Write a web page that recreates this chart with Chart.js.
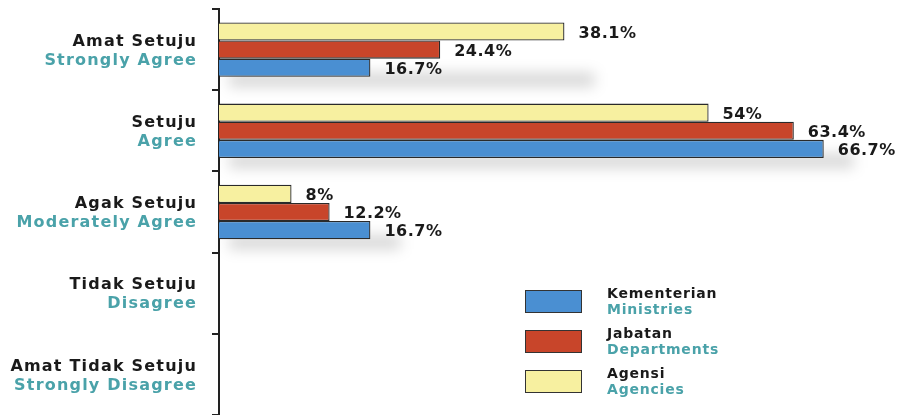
<!DOCTYPE html>
<html>
<head>
<meta charset="utf-8">
<script src="https://cdn.jsdelivr.net/npm/chart.js@4/dist/chart.umd.min.js"></script>
<style>
  html, body { margin: 0; padding: 0; background: #ffffff; overflow: hidden; }
  #wrap { width: 899px; height: 415px; position: relative; }
</style>
</head>
<body>
<div id="wrap"><canvas id="c"></canvas></div>
<script>
// ---- data ----
const categoriesMalay = ['Amat Setuju', 'Setuju', 'Agak Setuju', 'Tidak Setuju', 'Amat Tidak Setuju'];
const categoriesEnglish = ['Strongly Agree', 'Agree', 'Moderately Agree', 'Disagree', 'Strongly Disagree'];

const agencies = [38.1, 54, 8, null, null];       // Agensi / Agencies
const departments = [24.4, 63.4, 12.2, null, null]; // Jabatan / Departments
const ministries = [16.7, 66.7, 16.7, null, null];  // Kementerian / Ministries

const seriesMalay = ['Agensi', 'Jabatan', 'Kementerian'];
const seriesEnglish = ['Agencies', 'Departments', 'Ministries'];
const seriesColors = ['#f7f0a0', '#c8452a', '#4a8fd2'];
const legendOrder = [2, 1, 0];

const FONT = '"DejaVu Sans", sans-serif';
const TEAL = '#4aa2a9';
const DARK = '#1a1a1a';

const labelsPlugin = {
  id: 'customLabels',
  beforeDatasetsDraw(chart) {
    const ctx = chart.ctx;
    // soft shadows under bar groups
    ctx.save();
    ctx.filter = 'blur(7px)';
    ctx.fillStyle = 'rgba(0,0,0,0.16)';
    const metas = chart.data.datasets.map((d, i) => chart.getDatasetMeta(i));
    categoriesMalay.forEach((c, ci) => {
      let x0 = Infinity, x1 = -Infinity, y1 = -Infinity;
      metas.forEach(m => {
        const el = m.data[ci];
        const v = chart.data.datasets[m.index].data[ci];
        if (!el || v == null) return;
        x0 = Math.min(x0, el.base); x1 = Math.max(x1, el.x + 40);
        y1 = Math.max(y1, el.y + el.height / 2);
      });
      if (x1 > x0) ctx.fillRect(x0 + 10, y1 - 4, x1 - x0 - 20, 14);
    });
    ctx.restore();
  },
  afterDatasetsDraw(chart) {
    const ctx = chart.ctx;
    ctx.save();
    ctx.letterSpacing = '0.5px';
    ctx.font = 'bold 16px ' + FONT;
    ctx.fillStyle = DARK;
    ctx.textAlign = 'left';
    ctx.textBaseline = 'middle';
    chart.data.datasets.forEach((ds, di) => {
      const meta = chart.getDatasetMeta(di);
      meta.data.forEach((el, i) => {
        const v = ds.data[i];
        if (v == null) return;
        ctx.fillText(v + '%', el.x + 14, el.y + 2);
      });
    });
    // y category labels
    const ys = chart.scales.y;
    ctx.textAlign = 'right';
    ctx.letterSpacing = '1.2px';
    categoriesMalay.forEach((c, i) => {
      const y = ys.getPixelForValue(i);
      ctx.font = 'bold 16px ' + FONT;
      ctx.fillStyle = DARK;
      ctx.fillText(c, 197, y - 8);
      ctx.fillStyle = TEAL;
      ctx.fillText(categoriesEnglish[i], 197, y + 11);
    });
    // legend
    ctx.textAlign = 'left';
    ctx.letterSpacing = '0.8px';
    legendOrder.forEach((si, k) => {
      const bx = 525, by = 290 + k * 40;
      ctx.fillStyle = seriesColors[si];
      ctx.fillRect(bx, by, 57, 23);
      ctx.strokeStyle = '#333';
      ctx.lineWidth = 1;
      ctx.strokeRect(bx + 0.5, by + 0.5, 56, 22);
      ctx.font = 'bold 14px ' + FONT;
      ctx.fillStyle = DARK;
      ctx.fillText(seriesMalay[si], 607, by + 4);
      ctx.fillStyle = TEAL;
      ctx.fillText(seriesEnglish[si], 607, by + 20);
    });
    ctx.restore();
  }
};

const datasetsData = [agencies, departments, ministries];

new Chart(document.getElementById('c'), {
  type: 'bar',
  data: {
    labels: categoriesMalay,
    datasets: datasetsData.map((d, i) => ({
      label: seriesEnglish[i],
      data: d,
      backgroundColor: seriesColors[i],
      borderColor: '#2a2a2a',
      borderWidth: 1.3,
      categoryPercentage: 0.67,
      barPercentage: 1.0
    }))
  },
  options: {
    indexAxis: 'y',
    responsive: true,
    maintainAspectRatio: false,
    animation: false,
    layout: { padding: { top: 9, right: 0, bottom: 0, left: 0 } },
    plugins: { legend: { display: false }, tooltip: { enabled: false } },
    scales: {
      x: { display: false, min: 0, max: 75 },
      y: {
        afterFit(scale) { scale.width = 219; },
        ticks: { display: false },
        grid: { display: true, drawOnChartArea: false, drawTicks: true, tickLength: 7, color: '#222', lineWidth: 2 },
        border: { display: true, color: '#222', width: 2 }
      }
    }
  },
  plugins: [labelsPlugin]
});
</script>
</body>
</html>
